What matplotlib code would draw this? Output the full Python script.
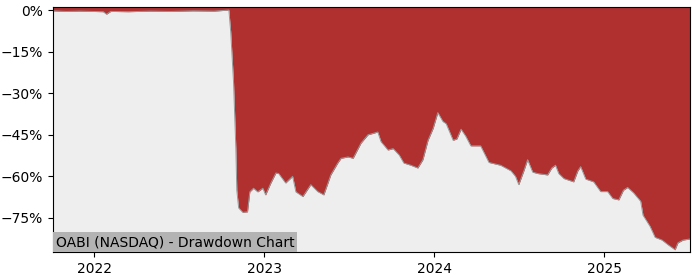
import matplotlib
matplotlib.use("Agg")
import matplotlib.pyplot as plt
import matplotlib.dates as mdates
from matplotlib.ticker import PercentFormatter
import pandas as pd

# drawdown (percent)
dates = [
    "2021-10-04", "2021-11-01", "2021-12-01", "2022-01-20", "2022-01-27", "2022-02-05",
    "2022-03-15", "2022-05-01", "2022-06-15", "2022-08-01", "2022-09-15", "2022-10-17",
    "2022-10-21", "2022-10-27", "2022-11-01", "2022-11-03", "2022-11-07", "2022-11-16",
    "2022-11-26", "2022-12-01", "2022-12-09", "2022-12-18", "2022-12-29", "2023-01-04",
    "2023-01-15", "2023-01-26", "2023-02-01", "2023-02-16", "2023-03-03", "2023-03-10",
    "2023-03-25", "2023-04-11", "2023-04-26", "2023-05-09", "2023-05-18", "2023-05-24",
    "2023-06-08", "2023-06-15", "2023-06-30", "2023-07-11", "2023-07-28", "2023-08-12",
    "2023-08-23", "2023-09-02", "2023-09-09", "2023-09-24", "2023-10-05", "2023-10-18",
    "2023-10-28", "2023-11-12", "2023-11-27", "2023-12-08", "2023-12-19", "2023-12-30",
    "2024-01-09", "2024-01-20", "2024-01-27", "2024-02-11", "2024-02-19", "2024-02-28",
    "2024-03-09", "2024-03-20", "2024-04-10", "2024-04-19", "2024-04-28", "2024-05-23",
    "2024-06-14", "2024-06-24", "2024-07-01", "2024-07-12", "2024-07-20", "2024-07-31",
    "2024-08-11", "2024-09-01", "2024-09-10", "2024-09-18", "2024-09-25", "2024-10-06",
    "2024-10-27", "2024-11-05", "2024-11-11", "2024-11-22", "2024-12-09", "2024-12-24",
    "2025-01-08", "2025-01-19", "2025-02-01", "2025-02-11", "2025-02-20", "2025-03-05",
    "2025-03-20", "2025-03-25", "2025-04-09", "2025-04-20", "2025-05-05", "2025-05-18",
    "2025-06-02", "2025-06-08", "2025-06-19", "2025-07-04",
]
drawdown = [
    -0.3, -0.5, -0.4, -0.6, -1.5, -0.5,
    -0.6, -0.4, -0.5, -0.3, -0.4, 0.0,
    -8.0, -26.0, -50.0, -65.0, -71.4, -73.0,
    -72.8, -65.6, -64.3, -65.6, -64.3, -66.7,
    -62.5, -58.8, -59.0, -62.4, -60.0, -65.6,
    -67.3, -63.0, -65.5, -66.7, -62.4, -59.5,
    -55.2, -53.5, -53.0, -53.5, -48.0, -45.0,
    -44.5, -44.0, -47.5, -50.5, -50.0, -52.3,
    -55.2, -56.0, -57.0, -54.0, -47.0, -42.7,
    -37.0, -40.2, -41.0, -47.0, -46.5, -43.0,
    -45.5, -49.0, -49.0, -52.0, -55.0, -56.0,
    -58.0, -60.0, -63.0, -58.0, -54.0, -58.5,
    -59.0, -59.5, -57.0, -56.0, -59.0, -60.8,
    -62.0, -58.0, -56.5, -61.0, -62.0, -65.5,
    -65.5, -68.0, -68.5, -65.0, -64.0, -66.0,
    -69.0, -74.0, -78.0, -82.0, -83.0, -84.7,
    -86.5, -84.0, -83.0, -82.6,
]
yticks = [0, -15, -30, -45, -60, -75]
label = "OABI (NASDAQ) - Drawdown Chart"

x = pd.to_datetime(dates)

fig = plt.figure(figsize=(7, 2.8), dpi=100)
ax = fig.add_axes([0.0757, 0.1, 0.91, 0.875])
ax.set_facecolor("#eeeeee")

ax.set_xlim(x[0], x[-1])
ax.set_ylim(-87.3, 1.1)
top = ax.get_ylim()[1]

ax.fill_between(x, drawdown, top, color="#b03030", linewidth=0)
ax.plot(x, drawdown, color="#999999", linewidth=0.7)

ax.set_yticks(yticks)
ax.yaxis.set_major_formatter(PercentFormatter(decimals=0))
ax.xaxis.set_major_locator(mdates.YearLocator())
ax.xaxis.set_major_formatter(mdates.DateFormatter("%Y"))

ax.text(0.004, 0.012, label, transform=ax.transAxes, ha="left", va="bottom",
        fontsize=10, bbox=dict(facecolor="#b3b3b3", edgecolor="none", pad=2))

fig.savefig("out.png")
